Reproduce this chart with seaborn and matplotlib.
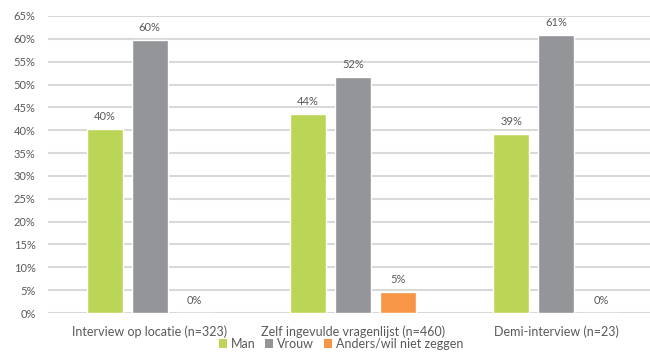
import matplotlib
matplotlib.use("Agg")
import matplotlib.pyplot as plt
from matplotlib.patches import Patch
import seaborn as sns
import pandas as pd

# Data
categories = ["Interview op locatie (n=323)",
              "Zelf ingevulde vragenlijst (n=460)",
              "Demi-interview (n=23)"]
series = ["Man", "Vrouw", "Anders/wil niet zeggen"]
man = [40.2, 43.6, 39.1]
vrouw = [59.8, 51.7, 60.9]
anders = [0.0, 4.5, 0.0]
yticks = list(range(0, 70, 5))

colors = ["#BBD657", "#939598", "#F79646"]
text_color = "#595959"
num_fs = 8
txt_fs = 9

rows = []
for name, vals in zip(series, [man, vrouw, anders]):
    for cat, v in zip(categories, vals):
        rows.append({"categorie": cat, "geslacht": name, "aandeel": v})
df = pd.DataFrame(rows)

sns.set_theme(style="white")
plt.rcParams["font.family"] = ["Lato", "DejaVu Sans"]

W, H = 650, 352
fig = plt.figure(figsize=(W / 100, H / 100), dpi=100)
left, right, top, bottom = 48, 650, 16, 313
ax = fig.add_axes([left / W, 1 - bottom / H, (right - left) / W, (bottom - top) / H])

sns.barplot(data=df, x="categorie", y="aandeel", hue="geslacht",
            hue_order=series, order=categories, palette=colors,
            width=0.665, gap=0.2, saturation=1, legend=False, ax=ax)

for cont in ax.containers:
    labels = [f"{int(b.get_height() + 0.5)}%" for b in cont]
    ax.bar_label(cont, labels=labels, padding=5, fontsize=num_fs, color=text_color)

ax.set_ylim(0, 65)
ax.set_xlim(-0.5, 2.46)
ax.set_yticks(yticks)
ax.set_yticklabels([f"{t}%" for t in yticks])
ax.yaxis.grid(True, color="#D9D9D9", linewidth=1.5)
ax.set_axisbelow(True)
for s in ax.spines.values():
    s.set_visible(False)

ax.tick_params(axis="x", length=0, pad=9, labelsize=txt_fs, labelcolor=text_color)
ax.tick_params(axis="y", length=0, pad=9, labelsize=num_fs, labelcolor=text_color)
ax.set_xlabel("")
ax.set_ylabel("")

handles = [Patch(facecolor=c, edgecolor="none") for c in colors]
fig.legend(handles, series, loc="center", bbox_to_anchor=(341 / W, 1 - 344 / H),
           ncol=3, frameon=False, fontsize=txt_fs, labelcolor=text_color,
           handlelength=0.65, handleheight=0.65, handletextpad=0.3,
           columnspacing=0.8, borderpad=0)

fig.savefig("out.png", dpi=100)
